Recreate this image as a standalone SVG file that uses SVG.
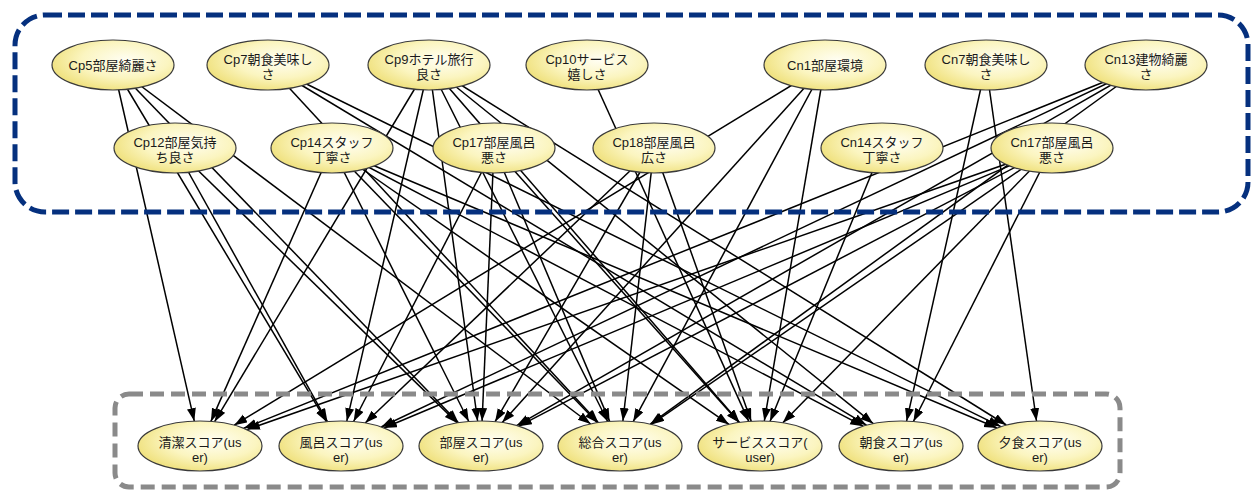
<svg xmlns="http://www.w3.org/2000/svg" width="1252" height="493" viewBox="0 0 1252 493">
<style>
.n ellipse{fill:url(#g);stroke:#3a3a3a;stroke-width:1.2}
.n text{font-family:"Liberation Sans","Noto Sans CJK JP",sans-serif;font-size:13px;fill:#1a1a1a;text-anchor:middle}
#edges line{stroke:#000;stroke-width:1.5;marker-end:url(#ah)}
</style>
<defs>
<radialGradient id="g" cx="0.6" cy="0.4" r="0.65">
<stop offset="0" stop-color="#fffef3"/>
<stop offset="0.55" stop-color="#fbf5c0"/>
<stop offset="1" stop-color="#efe07a"/>
</radialGradient>
<marker id="ah" markerUnits="userSpaceOnUse" markerWidth="14" markerHeight="10" refX="13" refY="4.5" orient="auto">
<path d="M0,0 L13,4.5 L0,9 z" fill="#000"/>
</marker>
</defs>
<rect width="1252" height="493" fill="#fff"/>
<g id="edges">
<line x1="113" y1="65" x2="194.3" y2="421.1"/>
<line x1="113" y1="65" x2="326.5" y2="421.7"/>
<line x1="113" y1="65" x2="458.5" y2="422.7"/>
<line x1="113" y1="65" x2="590.7" y2="424"/>
<line x1="268" y1="65" x2="598.3" y2="422.6"/>
<line x1="268" y1="65" x2="866.5" y2="425.2"/>
<line x1="268" y1="65" x2="1000.8" y2="426.6"/>
<line x1="429" y1="65" x2="214.6" y2="421.7"/>
<line x1="429" y1="65" x2="346.8" y2="421.1"/>
<line x1="429" y1="65" x2="477.6" y2="421"/>
<line x1="429" y1="65" x2="607.7" y2="421.5"/>
<line x1="429" y1="65" x2="739.5" y2="422.4"/>
<line x1="429" y1="65" x2="873.3" y2="423.7"/>
<line x1="429" y1="65" x2="1006.3" y2="425"/>
<line x1="587" y1="65" x2="748.8" y2="421.4"/>
<line x1="825" y1="65" x2="234.2" y2="425.2"/>
<line x1="825" y1="65" x2="502.2" y2="422.5"/>
<line x1="825" y1="65" x2="633.2" y2="421.6"/>
<line x1="825" y1="65" x2="764.3" y2="421.1"/>
<line x1="986" y1="65" x2="906.6" y2="421.1"/>
<line x1="986" y1="65" x2="1036.5" y2="421"/>
<line x1="1146" y1="65" x2="243.8" y2="428.3"/>
<line x1="1146" y1="65" x2="381.2" y2="427"/>
<line x1="1146" y1="65" x2="516.7" y2="425.6"/>
<line x1="1146" y1="65" x2="650.2" y2="424.2"/>
<line x1="175" y1="148" x2="327.4" y2="421.6"/>
<line x1="175" y1="148" x2="457.3" y2="422.9"/>
<line x1="332" y1="148" x2="210.9" y2="421.4"/>
<line x1="332" y1="148" x2="468.8" y2="421.5"/>
<line x1="332" y1="148" x2="597.5" y2="422.7"/>
<line x1="332" y1="148" x2="729" y2="424.4"/>
<line x1="332" y1="148" x2="863.2" y2="426.2"/>
<line x1="332" y1="148" x2="997.1" y2="428"/>
<line x1="494" y1="148" x2="353.6" y2="421.5"/>
<line x1="494" y1="148" x2="482.1" y2="421"/>
<line x1="494" y1="148" x2="609.6" y2="421.4"/>
<line x1="494" y1="148" x2="739" y2="422.5"/>
<line x1="654" y1="148" x2="365.2" y2="423"/>
<line x1="654" y1="148" x2="495.1" y2="421.7"/>
<line x1="654" y1="148" x2="622.9" y2="421"/>
<line x1="654" y1="148" x2="751.2" y2="421.3"/>
<line x1="882" y1="148" x2="770.1" y2="421.3"/>
<line x1="1052" y1="148" x2="246.9" y2="429.6"/>
<line x1="1052" y1="148" x2="383.9" y2="428"/>
<line x1="1052" y1="148" x2="518.9" y2="426.2"/>
<line x1="1052" y1="148" x2="651.3" y2="424.4"/>
<line x1="1052" y1="148" x2="782.8" y2="422.8"/>
<line x1="1052" y1="148" x2="913.4" y2="421.5"/>
</g>
<rect x="15" y="15" width="1233" height="197" rx="30" fill="none" stroke="#05307e" stroke-width="5" stroke-dasharray="17 6"/>
<rect x="115" y="394" width="1005" height="93" rx="14" fill="none" stroke="#8a8a8a" stroke-width="5" stroke-dasharray="14 7"/>
<g id="cp5" class="n"><ellipse cx="113" cy="65" rx="61" ry="25"/><text x="113" y="70">Cp5部屋綺麗さ</text></g>
<g id="cp7" class="n"><ellipse cx="268" cy="65" rx="61" ry="25"/><text x="268" y="64">Cp7朝食美味し</text><text x="268" y="79">さ</text></g>
<g id="cp9" class="n"><ellipse cx="429" cy="65" rx="61" ry="25"/><text x="429" y="64">Cp9ホテル旅行</text><text x="429" y="79">良さ</text></g>
<g id="cp10" class="n"><ellipse cx="587" cy="65" rx="61" ry="25"/><text x="587" y="64">Cp10サービス</text><text x="587" y="79">嬉しさ</text></g>
<g id="cn1" class="n"><ellipse cx="825" cy="65" rx="61" ry="25"/><text x="825" y="70">Cn1部屋環境</text></g>
<g id="cn7" class="n"><ellipse cx="986" cy="65" rx="61" ry="25"/><text x="986" y="64">Cn7朝食美味し</text><text x="986" y="79">さ</text></g>
<g id="cn13" class="n"><ellipse cx="1146" cy="65" rx="61" ry="25"/><text x="1146" y="64">Cn13建物綺麗</text><text x="1146" y="79">さ</text></g>
<g id="cp12" class="n"><ellipse cx="175" cy="148" rx="61" ry="25"/><text x="175" y="147">Cp12部屋気持</text><text x="175" y="162">ち良さ</text></g>
<g id="cp14" class="n"><ellipse cx="332" cy="148" rx="61" ry="25"/><text x="332" y="147">Cp14スタッフ</text><text x="332" y="162">丁寧さ</text></g>
<g id="cp17" class="n"><ellipse cx="494" cy="148" rx="61" ry="25"/><text x="494" y="147">Cp17部屋風呂</text><text x="494" y="162">悪さ</text></g>
<g id="cp18" class="n"><ellipse cx="654" cy="148" rx="61" ry="25"/><text x="654" y="147">Cp18部屋風呂</text><text x="654" y="162">広さ</text></g>
<g id="cn14" class="n"><ellipse cx="882" cy="148" rx="61" ry="25"/><text x="882" y="147">Cn14スタッフ</text><text x="882" y="162">丁寧さ</text></g>
<g id="cn17" class="n"><ellipse cx="1052" cy="148" rx="61" ry="25"/><text x="1052" y="147">Cn17部屋風呂</text><text x="1052" y="162">悪さ</text></g>
<g id="t1" class="n"><ellipse cx="200" cy="446" rx="62" ry="25"/><text x="200" y="447">清潔スコア(us</text><text x="200" y="462">er)</text></g>
<g id="t2" class="n"><ellipse cx="341" cy="446" rx="62" ry="25"/><text x="341" y="447">風呂スコア(us</text><text x="341" y="462">er)</text></g>
<g id="t3" class="n"><ellipse cx="481" cy="446" rx="62" ry="25"/><text x="481" y="447">部屋スコア(us</text><text x="481" y="462">er)</text></g>
<g id="t4" class="n"><ellipse cx="620" cy="446" rx="62" ry="25"/><text x="620" y="447">総合スコア(us</text><text x="620" y="462">er)</text></g>
<g id="t5" class="n"><ellipse cx="760" cy="446" rx="62" ry="25"/><text x="760" y="447">サービススコア(</text><text x="760" y="462">user)</text></g>
<g id="t6" class="n"><ellipse cx="901" cy="446" rx="62" ry="25"/><text x="901" y="447">朝食スコア(us</text><text x="901" y="462">er)</text></g>
<g id="t7" class="n"><ellipse cx="1040" cy="446" rx="62" ry="25"/><text x="1040" y="447">夕食スコア(us</text><text x="1040" y="462">er)</text></g>
</svg>
